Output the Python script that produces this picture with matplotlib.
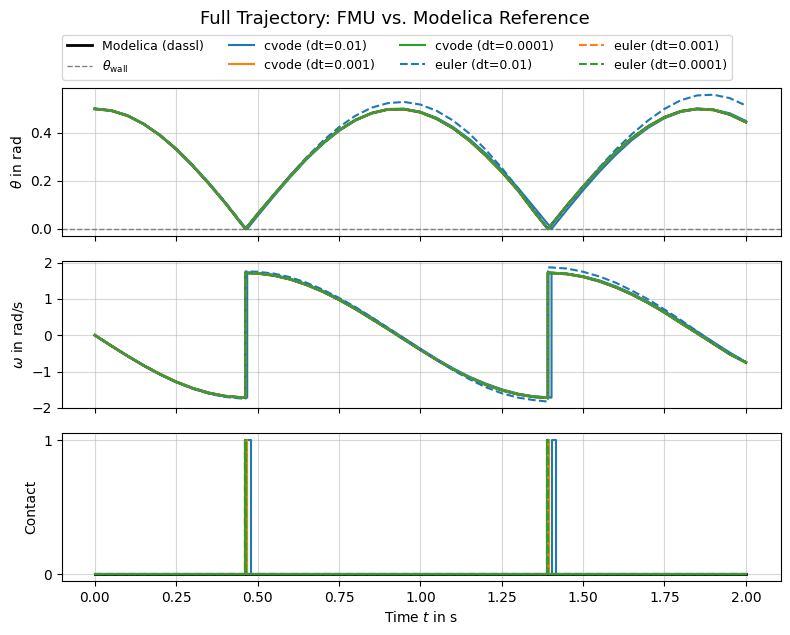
import numpy as np
import matplotlib
matplotlib.use("Agg")
import matplotlib.pyplot as plt

# time grid of the reference solution (impacts at 0.463 s and 1.392 s)
t_ref = [0.0, 0.05, 0.10, 0.15, 0.20, 0.25, 0.30, 0.35, 0.40, 0.45, 0.463, 0.463,
         0.50, 0.55, 0.60, 0.65, 0.70, 0.75, 0.80, 0.85, 0.90, 0.95, 1.00, 1.05,
         1.10, 1.15, 1.20, 1.25, 1.30, 1.35, 1.392, 1.392,
         1.40, 1.45, 1.50, 1.55, 1.60, 1.65, 1.70, 1.75, 1.80, 1.85, 1.90, 1.95, 2.00]

theta_ref = [0.500, 0.493, 0.472, 0.437, 0.390, 0.332, 0.264, 0.189, 0.109, 0.022, 0.0, 0.0,
             0.062, 0.142, 0.220, 0.293, 0.357, 0.411, 0.453, 0.482, 0.498, 0.499, 0.486, 0.459,
             0.420, 0.369, 0.307, 0.238, 0.161, 0.071, 0.0, 0.0,
             0.013, 0.097, 0.176, 0.251, 0.319, 0.378, 0.427, 0.465, 0.490, 0.500, 0.496, 0.477, 0.445]

omega_ref = [0.0, -0.289, -0.570, -0.835, -1.075, -1.286, -1.460, -1.591, -1.679, -1.717, -1.72, 1.72,
             1.707, 1.649, 1.543, 1.393, 1.204, 0.980, 0.729, 0.453, 0.174, -0.116, -0.400, -0.678,
             -0.935, -1.163, -1.357, -1.513, -1.628, -1.699, -1.72, 1.72,
             1.719, 1.690, 1.613, 1.489, 1.325, 1.126, 0.892, 0.630, 0.340, 0.058, -0.230, -0.517, -0.75]

# cvode dt=0.01 (impacts detected a bit later)
t_cv01 = [0.0, 0.05, 0.10, 0.15, 0.20, 0.25, 0.30, 0.35, 0.40, 0.45, 0.468, 0.468,
          0.50, 0.55, 0.60, 0.65, 0.70, 0.75, 0.80, 0.85, 0.90, 0.95, 1.00, 1.05,
          1.10, 1.15, 1.20, 1.25, 1.30, 1.35, 1.40, 1.403, 1.403,
          1.45, 1.50, 1.55, 1.60, 1.65, 1.70, 1.75, 1.80, 1.85, 1.90, 1.95, 2.00]

theta_cv01 = [0.500, 0.493, 0.472, 0.437, 0.390, 0.332, 0.264, 0.189, 0.109, 0.022, 0.0, 0.0,
              0.054, 0.136, 0.215, 0.289, 0.353, 0.408, 0.451, 0.481, 0.497, 0.500, 0.488, 0.463,
              0.425, 0.375, 0.315, 0.246, 0.171, 0.089, 0.007, 0.0, 0.0,
              0.079, 0.161, 0.238, 0.308, 0.370, 0.421, 0.461, 0.487, 0.499, 0.497, 0.482, 0.450]

omega_cv01 = [0.0, -0.289, -0.570, -0.835, -1.075, -1.286, -1.460, -1.591, -1.679, -1.717, -1.72, 1.72,
              1.71, 1.66, 1.56, 1.41, 1.23, 1.01, 0.76, 0.49, 0.20, -0.08, -0.37, -0.65,
              -0.91, -1.14, -1.33, -1.49, -1.61, -1.69, -1.72, -1.72, 1.72,
              1.697, 1.628, 1.512, 1.352, 1.153, 0.922, 0.667, 0.390, 0.103, -0.187, -0.473, -0.74]

# euler dt=0.01 (energy drifts upwards)
theta_eu01 = [0.500, 0.493, 0.472, 0.437, 0.391, 0.334, 0.267, 0.193, 0.113, 0.027, 0.0, 0.0,
              0.060, 0.143, 0.223, 0.298, 0.366, 0.424, 0.471, 0.505, 0.524, 0.529, 0.518, 0.492,
              0.452, 0.398, 0.331, 0.254, 0.169, 0.080, 0.0, 0.0,
              0.013, 0.095, 0.178, 0.256, 0.330, 0.395, 0.452, 0.500, 0.536, 0.556, 0.559, 0.545, 0.514]

omega_eu01 = [0.0, -0.289, -0.572, -0.840, -1.083, -1.298, -1.476, -1.612, -1.703, -1.745, -1.75, 1.76,
              1.75, 1.70, 1.60, 1.45, 1.26, 1.03, 0.78, 0.50, 0.21, -0.09, -0.39, -0.68,
              -0.96, -1.21, -1.43, -1.60, -1.72, -1.79, -1.83, 1.87,
              1.87, 1.84, 1.75, 1.62, 1.45, 1.23, 0.99, 0.71, 0.42, 0.11, -0.20, -0.49, -0.73]

# contact flags
t_contact_ref = [0.0, 0.461, 0.461, 0.465, 0.465, 1.388, 1.388, 1.392, 1.392, 2.0]
t_contact_cv001 = [0.0, 0.461, 0.461, 0.466, 0.466, 1.391, 1.391, 1.396, 1.396, 2.0]
t_contact_cv01 = [0.0, 0.466, 0.466, 0.479, 0.479, 1.405, 1.405, 1.416, 1.416, 2.0]
contact_vals = [0, 0, 1, 1, 0, 0, 1, 1, 0, 0]

theta_wall = 0.0

# (label, color, linestyle, t, theta, omega, t_contact)
runs = [
    ("cvode (dt=0.01)", "C0", "-", t_cv01, theta_cv01, omega_cv01, t_contact_cv01),
    ("cvode (dt=0.001)", "C1", "-", t_ref, theta_ref, omega_ref, t_contact_cv001),
    ("cvode (dt=0.0001)", "C2", "-", t_ref, theta_ref, omega_ref, t_contact_ref),
    ("euler (dt=0.01)", "C0", "--", t_ref, theta_eu01, omega_eu01, t_contact_ref),
    ("euler (dt=0.001)", "C1", "--", t_ref, theta_ref, omega_ref, t_contact_cv001),
    ("euler (dt=0.0001)", "C2", "--", t_ref, theta_ref, omega_ref, t_contact_ref),
]

fig, axes = plt.subplots(3, 1, figsize=(7.9, 6.35), dpi=100, sharex=True)
ax_th, ax_om, ax_c = axes

ax_th.plot(t_ref, theta_ref, color="black", lw=2, label="Modelica (dassl)")
ax_om.plot(t_ref, omega_ref, color="black", lw=2)
ax_c.plot(t_contact_ref, contact_vals, color="black", lw=2)
ax_th.axhline(theta_wall, color="gray", ls="--", lw=1, label=r"$\theta_\mathrm{wall}$")

for label, col, ls, t, th, om, tc in runs:
    ax_th.plot(t, th, color=col, ls=ls, lw=1.5, label=label)
    ax_om.plot(t, om, color=col, ls=ls, lw=1.5)
    ax_c.plot(tc, contact_vals, color=col, ls=ls, lw=1.5)

ax_th.set_ylabel(r"$\theta$ in rad")
ax_om.set_ylabel(r"$\omega$ in rad/s")
ax_c.set_ylabel("Contact")
ax_c.set_xlabel(r"Time $t$ in s")
ax_c.set_yticks([0, 1])
ax_om.set_yticks([-2, -1, 0, 1, 2])
ax_c.set_xticks(np.arange(0, 2.01, 0.25))
ax_c.set_xlim(-0.101, 2.108)

for ax in axes:
    ax.grid(True, alpha=0.5)

ax_th.legend(loc="lower left", bbox_to_anchor=(0, 1.055), ncol=4, fontsize=9,
             borderaxespad=0)

fig.suptitle("Full Trajectory: FMU vs. Modelica Reference", fontsize=13, y=0.985)
fig.subplots_adjust(left=0.0785, right=0.9886, top=0.8614, bottom=0.085, hspace=0.17)
fig.savefig("out.png")
